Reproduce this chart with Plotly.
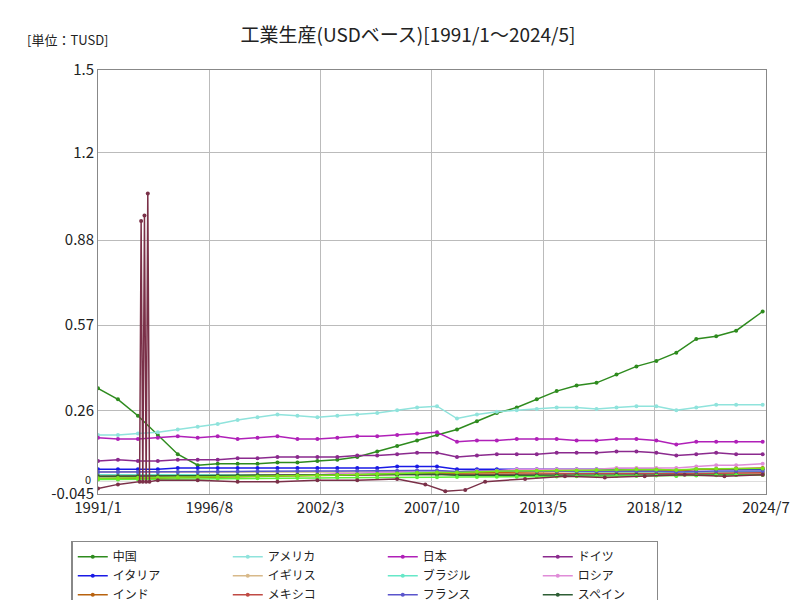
import plotly.graph_objects as go

years = list(range(1991, 2025))
dates = [f"{y}-01-01" for y in years[:-1]] + ["2024-05-01"]

china = [0.34, 0.30, 0.24, 0.17, 0.10, 0.06, 0.065, 0.065, 0.065, 0.07, 0.07, 0.075, 0.08, 0.09,
         0.11, 0.13, 0.15, 0.17, 0.19, 0.22, 0.25, 0.27, 0.30, 0.33, 0.35, 0.36, 0.39, 0.42,
         0.44, 0.47, 0.52, 0.53, 0.55, 0.62]
usa = [0.17, 0.17, 0.175, 0.18, 0.19, 0.20, 0.21, 0.225, 0.235, 0.245, 0.24, 0.235, 0.24, 0.245,
       0.25, 0.26, 0.27, 0.275, 0.23, 0.245, 0.255, 0.26, 0.265, 0.27, 0.27, 0.265, 0.27, 0.275,
       0.275, 0.26, 0.27, 0.28, 0.28, 0.28]
japan = [0.16, 0.155, 0.155, 0.16, 0.165, 0.16, 0.165, 0.155, 0.16, 0.165, 0.155, 0.155, 0.16, 0.165,
         0.165, 0.17, 0.175, 0.18, 0.145, 0.15, 0.15, 0.155, 0.155, 0.155, 0.15, 0.15, 0.155, 0.155,
         0.15, 0.135, 0.145, 0.145, 0.145, 0.145]
germany = [0.075, 0.08, 0.075, 0.075, 0.08, 0.08, 0.08, 0.085, 0.085, 0.09, 0.09, 0.09, 0.09, 0.095,
           0.095, 0.1, 0.105, 0.105, 0.09, 0.095, 0.1, 0.1, 0.1, 0.105, 0.105, 0.105, 0.11, 0.11,
           0.105, 0.095, 0.1, 0.105, 0.1, 0.1]
italy = [0.045, 0.045, 0.045, 0.045, 0.05, 0.05, 0.05, 0.05, 0.05, 0.05, 0.05, 0.05, 0.05, 0.05,
         0.05, 0.055, 0.055, 0.055, 0.045, 0.045, 0.045, 0.045, 0.045, 0.045, 0.045, 0.045, 0.045, 0.045,
         0.045, 0.04, 0.045, 0.045, 0.045, 0.045]
uk = [0.035, 0.035, 0.035, 0.035, 0.035, 0.035, 0.035, 0.035, 0.035, 0.035, 0.035, 0.035, 0.035, 0.035,
      0.035, 0.035, 0.035, 0.035, 0.03, 0.03, 0.03, 0.03, 0.03, 0.03, 0.03, 0.03, 0.03, 0.03,
      0.03, 0.028, 0.03, 0.03, 0.03, 0.03]
brazil = [0.025, 0.025, 0.025, 0.025, 0.025, 0.025, 0.025, 0.025, 0.025, 0.025, 0.025, 0.025, 0.025, 0.03,
          0.03, 0.03, 0.035, 0.035, 0.035, 0.04, 0.04, 0.04, 0.04, 0.04, 0.035, 0.035, 0.035, 0.035,
          0.035, 0.03, 0.035, 0.035, 0.035, 0.035]
russia = [0.015, 0.015, 0.015, 0.015, 0.015, 0.02, 0.02, 0.02, 0.02, 0.025, 0.025, 0.025, 0.03, 0.03,
          0.035, 0.035, 0.04, 0.04, 0.035, 0.04, 0.04, 0.045, 0.045, 0.045, 0.045, 0.045, 0.05, 0.05,
          0.05, 0.05, 0.055, 0.06, 0.06, 0.065]
india = [0.01, 0.01, 0.012, 0.012, 0.014, 0.015, 0.016, 0.017, 0.018, 0.019, 0.02, 0.021, 0.022, 0.024,
         0.025, 0.027, 0.029, 0.03, 0.03, 0.032, 0.034, 0.035, 0.036, 0.037, 0.038, 0.039, 0.04, 0.042,
         0.042, 0.04, 0.044, 0.046, 0.048, 0.05]
mexico = [0.02, 0.02, 0.02, 0.02, 0.02, 0.02, 0.022, 0.022, 0.023, 0.024, 0.024, 0.024, 0.024, 0.025,
          0.025, 0.026, 0.026, 0.027, 0.025, 0.026, 0.027, 0.028, 0.028, 0.029, 0.029, 0.03, 0.03, 0.03,
          0.03, 0.028, 0.03, 0.031, 0.032, 0.032]
france = [0.035, 0.035, 0.035, 0.035, 0.035, 0.035, 0.036, 0.037, 0.038, 0.039, 0.039, 0.039, 0.039, 0.04,
          0.04, 0.04, 0.041, 0.041, 0.037, 0.038, 0.038, 0.038, 0.038, 0.038, 0.038, 0.038, 0.039, 0.039,
          0.039, 0.035, 0.038, 0.039, 0.039, 0.039]
spain = [0.02, 0.02, 0.02, 0.02, 0.02, 0.02, 0.021, 0.022, 0.023, 0.024, 0.024, 0.024, 0.025, 0.025,
         0.026, 0.026, 0.027, 0.027, 0.023, 0.023, 0.023, 0.022, 0.022, 0.022, 0.023, 0.023, 0.024, 0.024,
         0.024, 0.022, 0.024, 0.025, 0.025, 0.025]
indonesia = [0.008, 0.008, 0.009, 0.009, 0.01, 0.01, 0.011, 0.011, 0.012, 0.012, 0.013, 0.013, 0.014, 0.014,
             0.015, 0.015, 0.016, 0.016, 0.017, 0.017, 0.018, 0.018, 0.019, 0.019, 0.02, 0.02, 0.021, 0.021,
             0.022, 0.021, 0.022, 0.023, 0.024, 0.024]
korea = [0.012, 0.013, 0.014, 0.015, 0.016, 0.017, 0.018, 0.017, 0.019, 0.021, 0.022, 0.023, 0.024, 0.026,
         0.028, 0.03, 0.032, 0.033, 0.033, 0.036, 0.038, 0.039, 0.04, 0.041, 0.041, 0.042, 0.044, 0.045,
         0.044, 0.042, 0.046, 0.047, 0.047, 0.048]

aus_dates = ["1991-01-01", "1992-01-01", "1993-02-01", "1993-03-01", "1993-04-01", "1993-05-01",
             "1993-06-01", "1993-07-01", "1993-08-01", "1994-01-01", "1996-01-01", "1998-01-01",
             "2000-01-01", "2002-01-01", "2004-01-01", "2006-01-01", "2007-06-01", "2008-06-01",
             "2009-06-01", "2010-06-01", "2012-06-01", "2014-06-01", "2016-06-01", "2018-06-01",
             "2020-06-01", "2022-06-01", "2024-05-01"]
australia = [-0.025, -0.01, 0.0, 0.95, 0.0, 0.97, 0.0, 1.05, 0.0, 0.005, 0.005, 0.0,
             0.0, 0.005, 0.005, 0.01, -0.01, -0.035, -0.03, 0.0, 0.01, 0.02, 0.015, 0.02,
             0.025, 0.02, 0.025]

series = [
    ("中国", china, "#2e8b1e"), ("アメリカ", usa, "#8fe3dc"), ("日本", japan, "#b020b8"),
    ("ドイツ", germany, "#8b2a8e"), ("イタリア", italy, "#1a1ae6"), ("イギリス", uk, "#d8b98a"),
    ("ブラジル", brazil, "#66e8c8"), ("ロシア", russia, "#e08cd8"), ("インド", india, "#b8620e"),
    ("メキシコ", mexico, "#c04a44"), ("フランス", france, "#5a55cc"), ("スペイン", spain, "#2e5e35"),
    ("インドネシア", indonesia, "#5ef03a"), ("韓国", korea, "#7ce41a"),
    ("オーストラリア", australia, "#7a3048"),
]
# legend entry widths (px), roughly matching the reference spacing
entry_w = {"中国": 50, "アメリカ": 74, "日本": 50, "ドイツ": 62, "イタリア": 74, "イギリス": 74,
           "ブラジル": 74, "ロシア": 62, "インド": 62, "メキシコ": 70, "フランス": 74,
           "スペイン": 74, "インドネシア": 98, "韓国": 50, "オーストラリア": 110}

fig = go.Figure()
for name, vals, col in series:
    x = aus_dates if name == "オーストラリア" else dates
    fig.add_trace(go.Scatter(x=x, y=vals, name=name, mode="lines+markers",
                             line=dict(color=col, width=1.5), marker=dict(size=4, color=col),
                             legendwidth=entry_w[name]))

tickv = ["1991-01-01", "1996-08-01", "2002-03-01", "2007-10-01", "2013-05-01", "2018-12-01", "2024-07-01"]
tickt = ["1991/1", "1996/8", "2002/3", "2007/10", "2013/5", "2018/12", "2024/7"]

fig.update_layout(
    width=800, height=600, margin=dict(l=90, r=42, t=62, b=114, autoexpand=False),
    paper_bgcolor="white", plot_bgcolor="white",
    font=dict(family="Noto Sans CJK JP", size=14, color="#222"),
    title=dict(text="工業生産(USDベース)[1991/1～2024/5]", x=0.5, y=0.965, font=dict(size=19)),
    legend=dict(orientation="h", x=-0.04, y=-0.11, xanchor="left", yanchor="top",
                bordercolor="#888", borderwidth=1.5, font=dict(size=12),
                itemwidth=30, tracegroupgap=0),
    showlegend=True,
)
fig.update_xaxes(type="date", range=["1991-01-01", "2024-07-01"], tickvals=tickv, ticktext=tickt,
                 showgrid=True, gridcolor="#bbb", linecolor="#888", mirror=True, showline=True,
                 ticks="", tickfont=dict(size=15))
fig.update_yaxes(range=[-0.045, 1.5], tickvals=[-0.045, 0.26, 0.57, 0.88, 1.2, 1.5],
                 ticktext=["-0.045", "0.26", "0.57", "0.88", "1.2", "1.5"],
                 showgrid=True, gridcolor="#bbb", linecolor="#888", mirror=True, showline=True,
                 zeroline=True, zerolinecolor="#ddd", zerolinewidth=1, tickfont=dict(size=15))
fig.add_annotation(text="0", xref="paper", yref="y", x=-0.008, y=0.01, xanchor="right",
                   showarrow=False, font=dict(size=11))
fig.add_annotation(text="[単位：TUSD]", xref="paper", yref="paper", x=-0.11, y=1.1,
                   xanchor="left", showarrow=False, font=dict(size=13))
fig.write_html("out.html")
